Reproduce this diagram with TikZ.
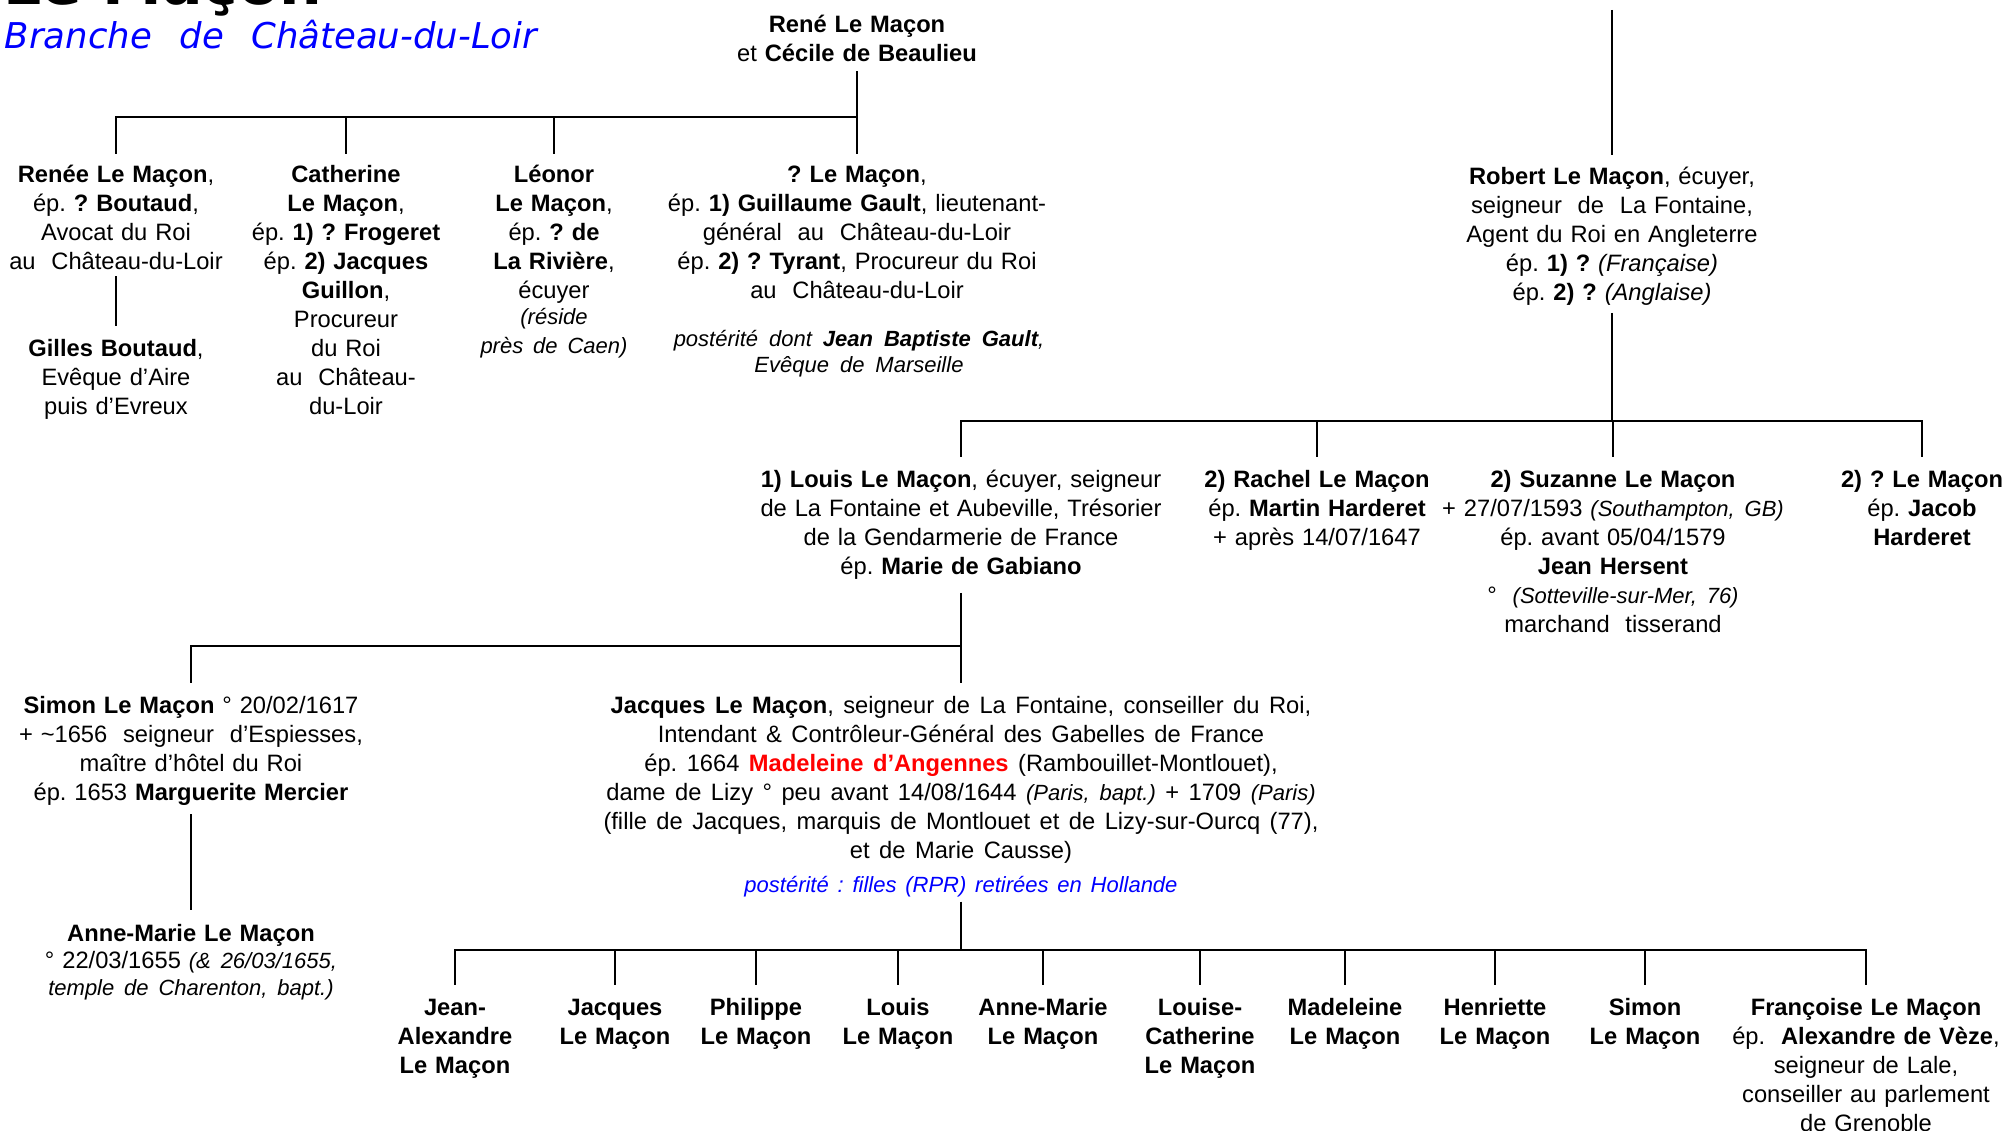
\documentclass[tikz,border=0pt]{standalone}
\usepackage{fontspec}
\setmainfont{Liberation Sans}
\newfontfamily\titlefont{DejaVu Sans}
\usetikzlibrary{calc}
\definecolor{tblue}{RGB}{0,0,255}
\definecolor{tred}{RGB}{255,0,0}
\setlength\parindent{0pt}
\frenchspacing
\newcommand\smfont{\fontsize{22}{26}\selectfont\itshape\spaceskip=0.45em\relax}
\newcommand\smit[1]{{\smfont #1}}
\newcommand\smpar{\par\smfont}
\newcommand\bodyfont{\fontsize{23.7}{29}\selectfont\frenchspacing}
\newcommand\subfont{\titlefont\fontsize{35.5}{40}\selectfont\itshape\spaceskip=27.5pt\relax}
\begin{document}
\begin{tikzpicture}[x=1pt,y=-1pt,
  every node/.style={inner sep=0pt, outer sep=0pt},
  person/.style={anchor=north, yshift=22pt, text width=1000pt, align=center,
    font=\bodyfont, execute at begin node={\rule{0pt}{22pt}}},
  wide/.style={execute at begin node={\rule{0pt}{22pt}\spaceskip=#1\relax}},
  note/.style={person, font=\smfont, wide=0.4em},
  child/.style={person, font=\bodyfont\bfseries},
  vl/.style={line width=2.2pt},
  hl/.style={line width=2.6pt, line cap=rect}]
\useasboundingbox (0,0) rectangle (2009,1131);

% title
\node[anchor=base west, font=\titlefont\fontsize{60}{64}\selectfont\bfseries] (title) at (3,5) {Le Maçon};
\node[anchor=base west, text=tblue, font=\subfont] (subtitle) at (5,49) {Branche de Château-du-Loir};

% generation 1
\node[person] (rene) at (857,33) {\textbf{René Le Maçon}\\et \textbf{Cécile de Beaulieu}};

\node[person] (renee) at (116,183) {\textbf{Renée Le Maçon},\\ép. \textbf{? Boutaud},\\Avocat du Roi\\au\ \ Château-du-Loir};
\node[person] (cath) at (346,183) {\textbf{Catherine}\\\textbf{Le Maçon},\\ép. \textbf{1) ? Frogeret}\\ép. \textbf{2) Jacques}\\\textbf{Guillon},\\Procureur\\du Roi\\au\ \ Château-\\du-Loir};
\node[person] (leonor) at (554,183) {\textbf{Léonor}\\\textbf{Le Maçon},\\ép. \textbf{? de}\\\textbf{La Rivière},\\écuyer\smpar(réside\\près de Caen)};
\node[person] (qlm) at (857,183) {\textbf{? Le Maçon},\\ép. \textbf{1) Guillaume Gault}, lieutenant-\\général\ \ au\ \ Château-du-Loir\\ép. \textbf{2) ? Tyrant}, Procureur du Roi\\au\ \ Château-du-Loir};
\node[note, wide=0.5em] (qpost) at (859,346) {postérité dont \textbf{Jean Baptiste Gault},\\Evêque de Marseille};
\node[person] (gilles) at (116,356) {\textbf{Gilles Boutaud},\\Evêque d’Aire\\puis d’Evreux};

\node[person] (robert) at (1612,185) {\textbf{Robert Le Maçon}, écuyer,\\seigneur\ \ de\ \ La Fontaine,\\Agent du Roi en Angleterre\\ép. \textbf{1) ?} \textit{(Française)}\\ép. \textbf{2) ?} \textit{(Anglaise)}};

% generation 2
\node[person] (louis) at (961,487) {\textbf{1) Louis Le Maçon}, écuyer, seigneur\\de La Fontaine et Aubeville, Trésorier\\de la Gendarmerie de France\\ép. \textbf{Marie de Gabiano}};
\node[person] (rachel) at (1317,487) {\textbf{2) Rachel Le Maçon}\\ép. \textbf{Martin Harderet}\\+ après 14/07/1647};
\node[person] (suzanne) at (1613,487) {\textbf{2) Suzanne Le Maçon}\\+ 27/07/1593 \smit{(Southampton, GB)}\\ép. avant 05/04/1579\\\textbf{Jean Hersent}\\°\ \ \smit{(Sotteville-sur-Mer, 76)}\\marchand\ \ tisserand};
\node[person] (qtwo) at (1922,487) {\textbf{2) ? Le Maçon}\\ép. \textbf{Jacob}\\\textbf{Harderet}};

% generation 3
\node[person] (simon) at (191,713) {\textbf{Simon Le Maçon} ° 20/02/1617\\+ \textasciitilde1656\ \ seigneur\ \ d’Espiesses,\\maître d’hôtel du Roi\\ép. 1653 \textbf{Marguerite Mercier}};
\node[person, wide=0.4em] (jacques) at (961,713) {\textbf{Jacques Le Maçon}, seigneur de La Fontaine, conseiller du Roi,\\Intendant \& Contrôleur-Général des Gabelles de France\\ép. 1664 \textcolor{tred}{\textbf{Madeleine d’Angennes}} (Rambouillet-Montlouet),\\dame de Lizy ° peu avant 14/08/1644 \smit{(Paris, bapt.)} + 1709 \smit{(Paris)}\\(fille de Jacques, marquis de Montlouet et de Lizy-sur-Ourcq (77),\\et de Marie Causse)};
\node[note, text=tblue] (jpost) at (961,892) {postérité : filles (RPR) retirées en Hollande};

\node[person, font=\fontsize{23.7}{27}\selectfont] (annemarie) at (191,941) {\textbf{Anne-Marie Le Maçon}\\° 22/03/1655 \smit{(\& 26/03/1655,}\\\smit{temple de Charenton, bapt.)}};

% generation 4
\node[child] (c1) at (455,1015) {Jean-\\Alexandre\\Le Maçon};
\node[child] (c2) at (615,1015) {Jacques\\Le Maçon};
\node[child] (c3) at (756,1015) {Philippe\\Le Maçon};
\node[child] (c4) at (898,1015) {Louis\\Le Maçon};
\node[child] (c5) at (1043,1015) {Anne-Marie\\Le Maçon};
\node[child] (c6) at (1200,1015) {Louise-\\Catherine\\Le Maçon};
\node[child] (c7) at (1345,1015) {Madeleine\\Le Maçon};
\node[child] (c8) at (1495,1015) {Henriette\\Le Maçon};
\node[child] (c9) at (1645,1015) {Simon\\Le Maçon};
\node[person] (c10) at (1866,1015) {\textbf{Françoise Le Maçon}\\ép.\ \ \textbf{Alexandre de Vèze},\\seigneur de Lale,\\conseiller au parlement\\de Grenoble};

% buses
\coordinate (bus1) at (0,117);
\coordinate (bus2) at (0,421);
\coordinate (bus3) at (0,646);
\coordinate (bus4) at (0,950);
\coordinate (robtop) at (1612,10);

% connectors gen 1
\draw[vl] ([yshift=-9pt]rene.south) -- (rene.south |- bus1);
\draw[hl] (renee.north |- bus1) -- (rene.south |- bus1);
\foreach \n in {renee,cath,leonor,qlm}
  \draw[vl] (\n.north |- bus1) -- ([yshift=7pt]\n.north);
\draw[vl] ([yshift=-6pt]renee.south) -- ([yshift=8pt]gilles.north);

% Robert
\draw[vl] (robtop) -- ([yshift=8pt]robert.north);
\draw[vl] ([yshift=-7pt]robert.south) -- (robert.south |- bus2);
\draw[hl] (louis.north |- bus2) -- (qtwo.north |- bus2);
\foreach \n in {louis,rachel,suzanne,qtwo}
  \draw[vl] (\n.north |- bus2) -- ([yshift=8pt]\n.north);

% Louis
\draw[vl] ($(louis.south -| jacques.north)+(0,14)$) -- ([yshift=8pt]jacques.north);
\draw[hl] (simon.north |- bus3) -- (jacques.north |- bus3);
\draw[vl] (simon.north |- bus3) -- ([yshift=8pt]simon.north);
\draw[vl] ([yshift=-9pt]simon.south) -- ([yshift=9pt]annemarie.north);

% Jacques
\draw[vl] ([yshift=-5pt]jpost.south) -- (jpost.south |- bus4);
\draw[hl] (c1.north |- bus4) -- (c10.north |- bus4);
\foreach \n in {c1,c2,c3,c4,c5,c6,c7,c8,c9,c10}
  \draw[vl] (\n.north |- bus4) -- ([yshift=8pt]\n.north);
\end{tikzpicture}
\end{document}
